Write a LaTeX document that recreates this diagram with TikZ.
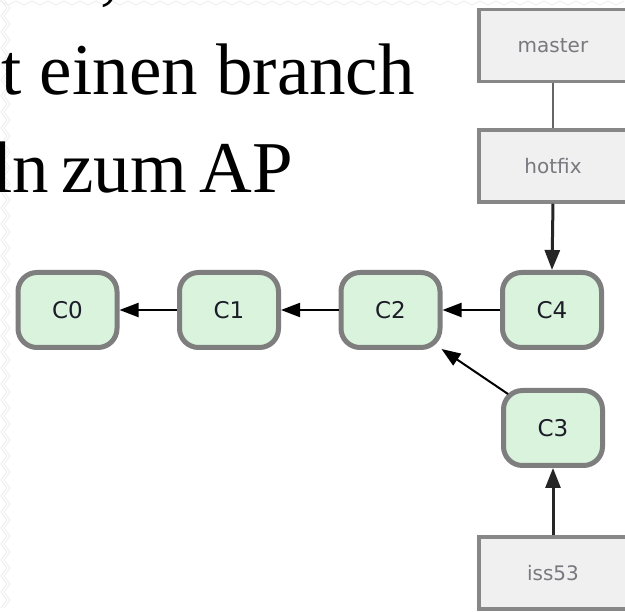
\documentclass[tikz,border=0pt]{standalone}
\usepackage{fontspec}
\setmainfont{Liberation Serif}
\newfontfamily\labelfont{DejaVu Sans}
\usetikzlibrary{arrows.meta,calc}
\definecolor{commitfill}{HTML}{D9F3DC}
\definecolor{commitborder}{HTML}{7E7E7E}
\definecolor{labelfill}{HTML}{F0F0F0}
\definecolor{labelborder}{HTML}{878787}
\definecolor{labeltext}{HTML}{78787F}
\definecolor{committext}{HTML}{1C1C28}
\definecolor{decor}{HTML}{EDEDED}
\tikzset{
  commit/.style={draw=commitborder, line width=5pt, fill=commitfill,
    rounded corners=19pt, minimum width=99pt, minimum height=75pt,
    inner sep=0pt, font=\labelfont\fontsize{23}{23}\selectfont, text=committext},
  branchbox/.style={draw=labelborder, line width=3.5pt, fill=labelfill,
    minimum width=148pt, minimum height=72pt, inner sep=0pt,
    font=\labelfont\fontsize{20}{20}\selectfont, text=labeltext},
  parentarrow/.style={line width=2pt, black, -{Triangle[length=19pt,width=14pt]}},
  refarrow/.style={line width=3pt, black!85, -{Triangle[length=20pt,width=15pt]}},
  refline/.style={line width=2.6pt, black!60},
  slidetext/.style={font=\fontsize{73}{86}\selectfont, inner sep=0pt, text=black},
  decorline/.style={draw=decor, line width=0.8pt}
}
\begin{document}
\begin{tikzpicture}[x=1pt,y=-1pt]
  \useasboundingbox (0,0) rectangle (625,612);
  \clip (0,0) rectangle (625,612);
  \fill[white] (0,0) rectangle (625,612);
  % faint slide decoration
  \draw[decorline] (1,0) \foreach \i in {1,...,76} { -- ({mod(\i,2)*6+1},{\i*8}) };
  \draw[decorline] (4,0) \foreach \i in {1,...,76} { -- ({mod(\i,2)*6+4},{\i*8}) };
  \draw[decorline] (0,1) \foreach \i in {1,...,78} { -- ({\i*8},{mod(\i,2)*4+1}) };
  % slide text (cropped)
  \node[slidetext, anchor=base west] (comma) at (100,-3) {,};
  \node[slidetext, anchor=base east] (line1) at (415,95) {t einen branch};
  \node[slidetext, anchor=base east] (line2) at (293,193) {ln\hspace{0.17em}zum\hspace{0.17em}AP};
  % commits
  \node[commit] (C0) at (67.5,310) {C0};
  \node[commit] (C1) at (229,310) {C1};
  \node[commit] (C2) at (390.5,310) {C2};
  \node[commit] (C4) at (552,310) {C4};
  \node[commit] (C3) at (553,428) {C3};
  % branches
  \node[branchbox] (master) at (553,45.5) {master};
  \node[branchbox] (hotfix) at (553,166) {hotfix};
  \node[branchbox] (iss53) at (553,573) {iss53};
  % connectors
  \draw[parentarrow] (C1.west) -- (C0.east);
  \draw[parentarrow] (C2.west) -- (C1.east);
  \draw[parentarrow] (C4.west) -- (C2.east);
  \draw[parentarrow] ([shift={(7pt,-6pt)}]C3.north west) -- ([shift={(-1pt,1pt)}]C2.south east);
  \draw[refline] (master.south) -- (hotfix.north);
  \draw[refarrow] (hotfix.south) -- (C4.north);
  \draw[refarrow] (iss53.north) -- (C3.south);
\end{tikzpicture}
\end{document}
